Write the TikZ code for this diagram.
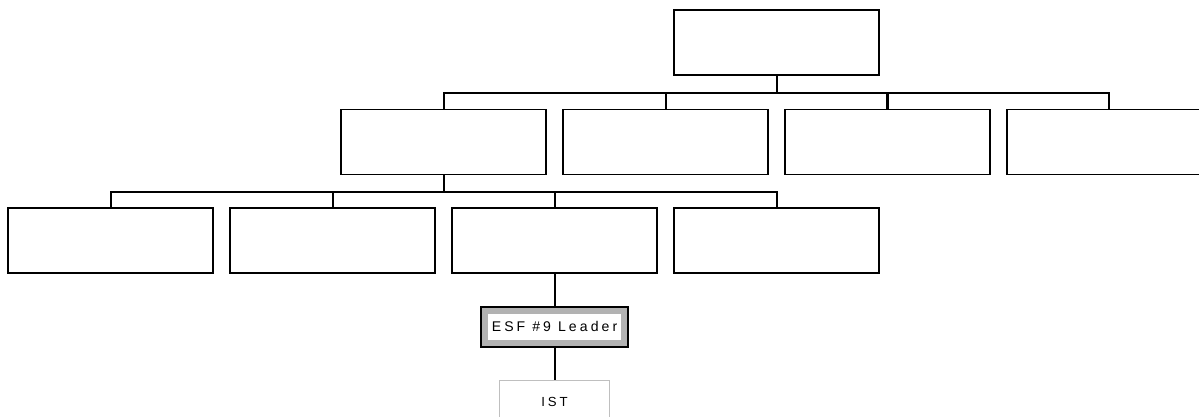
\documentclass[tikz,border=0pt]{standalone}
\usepackage{fontspec}
\newfontfamily\orgfont[LetterSpace=22]{Liberation Sans}
\usetikzlibrary{trees}

\tikzset{
  unit/.style={draw, line width=0.75pt, minimum width=4.1cm, minimum height=1.3cm, inner sep=0pt},
  leaderbox/.style={draw, fill=gray!60, line width=1.1pt, minimum width=2.94cm, minimum height=0.8cm,
    inner sep=0pt, font=\orgfont\fontsize{8}{9.5}\selectfont,
    path picture={\fill[white] ([shift={(0.145cm,0.135cm)}]path picture bounding box.south west)
      rectangle ([shift={(-0.15cm,-0.145cm)}]path picture bounding box.north east);}},
  istbox/.style={draw=gray!50, line width=0.4pt, minimum width=2.21cm, minimum height=0.9cm,
    inner sep=0pt, font=\orgfont\fontsize{7.5}{9}\selectfont},
  forkedge/.style={edge from parent path={(\tikzparentnode.south) -- +(0,-0.34cm) -| (\tikzchildnode.north)}}
}

\begin{document}
\begin{tikzpicture}[x=0.02cm, y=-0.02cm,
    edge from parent/.style={draw, line width=1.15pt},
    level 1/.style={sibling distance=4.44cm, level distance=1.99cm, forkedge},
    level 2/.style={sibling distance=4.44cm, level distance=1.97cm, forkedge},
    level 3/.style={level distance=1.724cm},
    level 4/.style={level distance=1.516cm}]
  \useasboundingbox (0,0) rectangle (1199,416);
  \node[unit] (chief) at (776.5,42.5) {}
    child {node[unit] (sec1) {}
      child {node[unit] (br1) {}}
      child {node[unit] (br2) {}}
      child {node[unit] (br3) {}
        child {node[leaderbox] (esf) {ESF \#9 Leader}
          child {node[istbox] (ist) {IST}}}}
      child {node[unit] (br4) {}}}
    child {node[unit] (sec2) {}}
    child {node[unit] (sec3) {}}
    child {node[unit] (sec4) {}};
\end{tikzpicture}
\end{document}
